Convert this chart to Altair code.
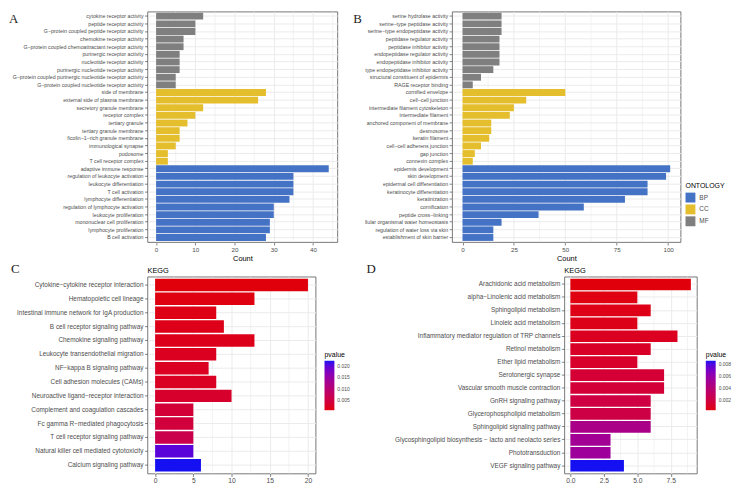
import altair as alt
import pandas as pd

# ---------------- Panel A (GO) ----------------
a_mf_terms = ["cytokine receptor activity", "peptide receptor activity",
              "G−protein coupled peptide receptor activity", "chemokine receptor activity",
              "G−protein coupled chemoattractant receptor activity", "purinergic receptor activity",
              "nucleotide receptor activity", "purinergic nucleotide receptor activity",
              "G−protein coupled purinergic nucleotide receptor activity",
              "G−protein coupled nucleotide receptor activity"]
a_mf_counts = [12, 10, 10, 7, 7, 6, 6, 6, 5, 5]
a_cc_terms = ["side of membrane", "external side of plasma membrane", "secretory granule membrane",
              "receptor complex", "tertiary granule", "tertiary granule membrane",
              "ficolin−1−rich granule membrane", "immunological synapse", "podosome",
              "T cell receptor complex"]
a_cc_counts = [28, 26, 12, 10, 8, 6, 6, 5, 3, 3]
a_bp_terms = ["adaptive immune response", "regulation of leukocyte activation",
              "leukocyte differentiation", "T cell activation", "lymphocyte differentiation",
              "regulation of lymphocyte activation", "leukocyte proliferation",
              "mononuclear cell proliferation", "lymphocyte proliferation", "B cell activation"]
a_bp_counts = [44, 35, 35, 35, 34, 30, 30, 29, 29, 28]
a_ticks = [0, 10, 20, 30, 40]
a_minor = [5, 15, 25, 35, 45]

# ---------------- Panel B (GO) ----------------
b_mf_terms = ["serine hydrolase activity", "serine−type peptidase activity",
              "serine−type endopeptidase activity", "peptidase regulator activity",
              "peptidase inhibitor activity", "endopeptidase regulator activity",
              "endopeptidase inhibitor activity", "type endopeptidase inhibitor activity",
              "structural constituent of epidermis", "RAGE receptor binding"]
b_mf_counts = [19, 19, 19, 18, 18, 18, 18, 15, 9, 5]
b_cc_terms = ["cornified envelope", "cell−cell junction", "intermediate filament cytoskeleton",
              "intermediate filament", "anchored component of membrane", "desmosome",
              "keratin filament", "cell−cell adherens junction", "gap junction", "connexin complex"]
b_cc_counts = [50, 31, 25, 23, 14, 14, 13, 9, 6, 5]
b_bp_terms = ["epidermis development", "skin development", "epidermal cell differentiation",
              "keratinocyte differentiation", "keratinization", "cornification",
              "peptide cross−linking", "llular organismal water homeostasis",
              "regulation of water loss via skin", "establishment of skin barrier"]
b_bp_counts = [101, 99, 90, 90, 79, 59, 37, 19, 15, 15]
b_ticks = [0, 25, 50, 75, 100]
b_minor = [12.5, 37.5, 62.5, 87.5]

ontologies = ["BP", "CC", "MF"]
ontology_colors = ["#4472C4", "#E5BE2D", "#7F7F7F"]

# ---------------- Panel C (KEGG) ----------------
c_terms = ["Cytokine−cytokine receptor interaction", "Hematopoietic cell lineage",
           "Intestinal immune network for IgA production", "B cell receptor signaling pathway",
           "Chemokine signaling pathway", "Leukocyte transendothelial migration",
           "NF−kappa B signaling pathway", "Cell adhesion molecules (CAMs)",
           "Neuroactive ligand−receptor interaction", "Complement and coagulation cascades",
           "Fc gamma R−mediated phagocytosis", "T cell receptor signaling pathway",
           "Natural killer cell mediated cytotoxicity", "Calcium signaling pathway"]
c_counts = [20, 13, 8, 9, 13, 8, 7, 8, 10, 5, 5, 5, 5, 6]
c_pvals = [0.0006, 0.0008, 0.0010, 0.0013, 0.0015, 0.0018, 0.0020, 0.0022, 0.0030,
           0.0040, 0.0045, 0.0060, 0.0200, 0.0222]
c_ticks = [0, 5, 10, 15, 20]
c_minor = [2.5, 7.5, 12.5, 17.5]
c_legend_vals = [0.005, 0.010, 0.015, 0.020]

# ---------------- Panel D (KEGG) ----------------
d_terms = ["Arachidonic acid metabolism", "alpha−Linolenic acid metabolism",
           "Sphingolipid metabolism", "Linoleic acid metabolism",
           "Inflammatory mediator regulation of TRP channels", "Retinol metabolism",
           "Ether lipid metabolism", "Serotonergic synapse", "Vascular smooth muscle contraction",
           "GnRH signaling pathway", "Glycerophospholipid metabolism",
           "Sphingolipid signaling pathway",
           "Glycosphingolipid biosynthesis − lacto and neolacto series",
           "Phototransduction", "VEGF signaling pathway"]
d_counts = [9, 5, 6, 5, 8, 6, 5, 7, 7, 6, 6, 6, 3, 3, 4]
d_pvals = [0.0003, 0.0004, 0.0005, 0.0006, 0.0008, 0.0010, 0.0011, 0.0015, 0.0016,
           0.0020, 0.0021, 0.0047, 0.0052, 0.0054, 0.0086]
d_ticks = [0, 2.5, 5, 7.5]
d_minor = [1.25, 3.75, 6.25, 8.75]
d_legend_vals = [0.002, 0.004, 0.006, 0.008]

LABEL_COLOR = "#4D4D4D"
GRID = "#EBEBEB"
SERIF = "Liberation Serif"
LOW_COLOR, HIGH_COLOR = "#E0000C", "#1510F2"


def expanded(maxv):
    return [-0.05 * maxv, 1.05 * maxv]


def text_layer(txt, x, y, font, size, color):
    return alt.Chart(pd.DataFrame({"t": [txt]})).mark_text(
        font=font, fontSize=size, align="left", baseline="alphabetic", color=color
    ).encode(text="t:N", x=alt.value(x), y=alt.value(y))


def x_axis(ticks, fmt, title, size):
    return alt.Axis(values=ticks, format=fmt, title=title, grid=True, labelFontSize=size)


def go_panel(terms_groups, counts_groups, ticks, minor, width, height, legend, letter, lx, ly):
    terms, counts, onts = [], [], []
    for ont, t, c in zip(["MF", "CC", "BP"], terms_groups, counts_groups):
        terms += t
        counts += c
        onts += [ont] * len(t)
    df = pd.DataFrame({"term": terms, "Count": counts, "ONTOLOGY": onts})
    xscale = alt.Scale(domain=expanded(max(counts)), nice=False, zero=False)
    yscale = alt.Scale(domain=terms, paddingInner=0.1, paddingOuter=0.15)
    xax = x_axis(ticks, "d", "Count", 6.3)
    minor_rules = alt.Chart(pd.DataFrame({"Count": minor})).mark_rule(
        color=GRID, strokeWidth=0.6
    ).encode(x=alt.X("Count:Q", scale=xscale, axis=xax))
    bars = alt.Chart(df).mark_bar().encode(
        y=alt.Y("term:N", scale=yscale,
                axis=alt.Axis(title=None, labelFontSize=5.3, grid=True, labelLimit=400)),
        x=alt.X("Count:Q", scale=xscale, axis=xax),
        x2=alt.datum(0),
        color=alt.Color("ONTOLOGY:N", scale=alt.Scale(domain=ontologies, range=ontology_colors),
                        legend=legend),
    )
    return alt.layer(
        minor_rules, bars, text_layer(letter, lx, ly, SERIF, 13, "#222")
    ).properties(width=width, height=height)


def kegg_panel(terms, counts, pvals, ticks, fmt, minor, legend_vals, legend_fmt,
               width, height, label_size, letter, lx, ly):
    df = pd.DataFrame({"Description": terms, "Count": counts, "pvalue": pvals})
    xscale = alt.Scale(domain=expanded(max(counts)), nice=False, zero=False)
    yscale = alt.Scale(domain=terms, paddingInner=0.1, paddingOuter=0.15)
    xax = x_axis(ticks, fmt, None, 6.8)
    minor_rules = alt.Chart(pd.DataFrame({"Count": minor})).mark_rule(
        color=GRID, strokeWidth=0.6
    ).encode(x=alt.X("Count:Q", scale=xscale, axis=xax))
    bars = alt.Chart(df).mark_bar().encode(
        y=alt.Y("Description:N", scale=yscale,
                axis=alt.Axis(title=None, labelFontSize=label_size, grid=True, labelLimit=400)),
        x=alt.X("Count:Q", scale=xscale, axis=xax),
        x2=alt.datum(0),
        color=alt.Color("pvalue:Q",
                        scale=alt.Scale(domain=[min(pvals), max(pvals)],
                                        range=[LOW_COLOR, HIGH_COLOR],
                                        interpolate="lab", nice=False, zero=False),
                        legend=alt.Legend(title="pvalue", orient="none", direction="vertical",
                                          legendX=width + 9, legendY=75,
                                          gradientLength=50, gradientThickness=10,
                                          values=legend_vals, format=legend_fmt,
                                          titleFontSize=7, titleFontWeight="normal",
                                          titleColor="black", labelFontSize=5,
                                          labelColor=LABEL_COLOR, titlePadding=3,
                                          labelOffset=3, gradientStrokeWidth=0)),
    )
    return alt.layer(
        minor_rules, bars,
        text_layer(letter, lx, ly, SERIF, 13, "#222"),
        text_layer("KEGG", 0, -3.5, "Liberation Sans", 7.5, "black"),
    ).properties(width=width, height=height)


W_A, W_B, W_C, W_D = 192, 231, 170, 134
H1, H2 = 233, 199

panel_a = go_panel([a_mf_terms, a_cc_terms, a_bp_terms], [a_mf_counts, a_cc_counts, a_bp_counts],
                   a_ticks, a_minor, W_A, H1, None, "A", -140, 12)
ont_legend = alt.Legend(title="ONTOLOGY", orient="none", legendX=W_B + 5, legendY=172,
                        symbolType="square", symbolSize=100, symbolStrokeWidth=0,
                        titleFontSize=7, titleFontWeight="normal", titleColor="black",
                        labelFontSize=6.5, labelColor=LABEL_COLOR, rowPadding=2, titlePadding=4)
panel_b = go_panel([b_mf_terms, b_cc_terms, b_bp_terms], [b_mf_counts, b_cc_counts, b_bp_counts],
                   b_ticks, b_minor, W_B, H1, ont_legend, "B", -100, 12)
panel_c = kegg_panel(c_terms, c_counts, c_pvals, c_ticks, "d", c_minor, c_legend_vals, ".3f",
                     W_C, H2, 6.5, "C", -138, -4)
panel_d = kegg_panel(d_terms, d_counts, d_pvals, d_ticks, ".1f", d_minor, d_legend_vals, ".3f",
                     W_D, H2, 6.5, "D", -200, -4)

row1 = alt.hconcat(panel_a, panel_b, spacing=14).resolve_scale(
    x="independent", y="independent", color="independent")
row2 = alt.hconcat(panel_c, panel_d, spacing=14.5).resolve_scale(
    x="independent", y="independent", color="independent")

chart = alt.vconcat(row1, row2, spacing=-1).resolve_scale(
    x="independent", y="independent", color="independent"
).properties(
    padding=0
).configure(
    font="Liberation Sans"
).configure_view(
    stroke="#555555", strokeWidth=0.8
).configure_axis(
    labelColor=LABEL_COLOR, tickColor="#333333", tickSize=3, tickWidth=0.6,
    domain=False, gridColor=GRID, gridWidth=1, labelPadding=1.5,
    titleColor="black", titleFontSize=7.5, titleFontWeight="normal", titlePadding=2,
)

chart.save("out.html", embed_options={"renderer": "svg", "actions": False})
